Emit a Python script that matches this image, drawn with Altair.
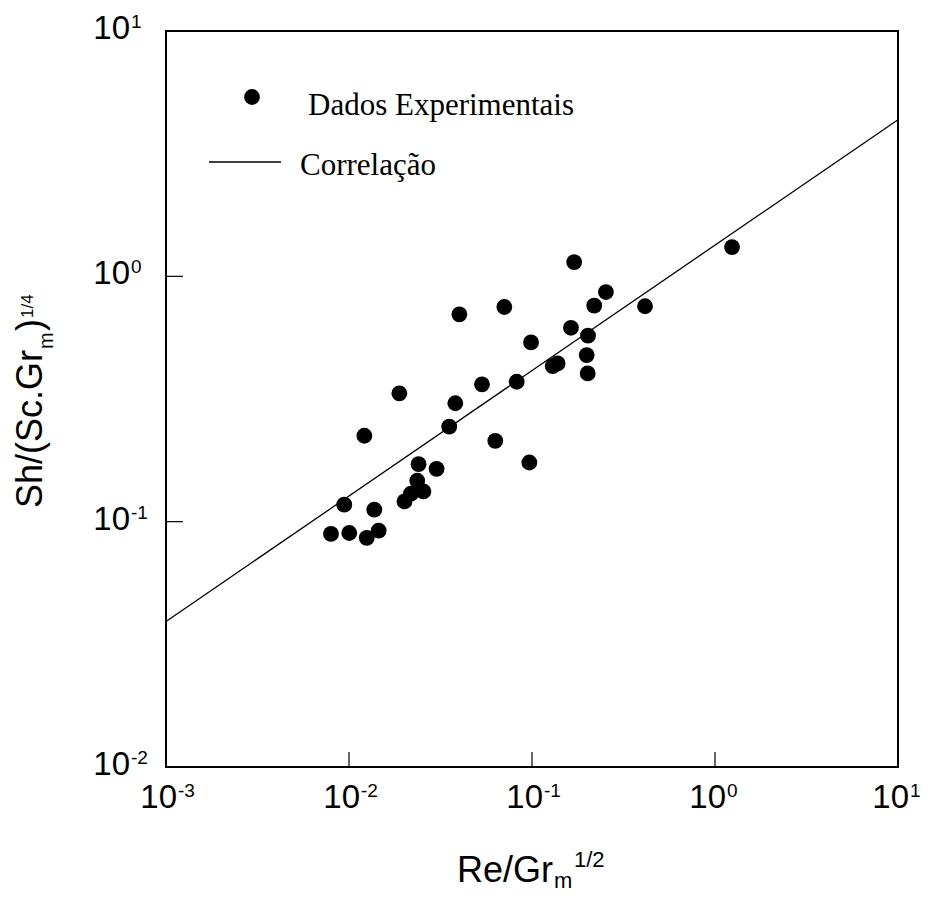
import altair as alt
import pandas as pd

# ---- data ----
re_gr = [0.01213, 0.0353, 0.0240, 0.0301, 0.0236, 0.0255, 0.0201, 0.0218,
         0.00942, 0.01375, 0.00797, 0.01003, 0.0125, 0.01452, 0.0401, 0.0706,
         0.2535, 0.2188, 0.1633, 0.2023, 0.0988, 0.199, 0.138, 0.1297,
         0.2015, 0.0825, 0.0533, 0.0381, 0.01884, 0.0630, 0.0967, 0.170,
         0.4146, 1.239]
sh_sc = [0.224, 0.244, 0.1716, 0.1642, 0.1468, 0.1328, 0.1209, 0.130,
         0.1173, 0.1119, 0.0891, 0.0899, 0.0859, 0.0919, 0.700, 0.750,
         0.863, 0.760, 0.617, 0.573, 0.5377, 0.4775, 0.4417, 0.4307,
         0.4022, 0.3718, 0.3628, 0.3038, 0.3336, 0.2135, 0.1742, 1.143,
         0.755, 1.316]

corr_x = [0.001, 10]
corr_y = [0.0392, 4.35]

x_tick_vals = [0.001, 0.01, 0.1, 1, 10]
x_tick_exps = ["-3", "-2", "-1", "0", "1"]
x_inner_ticks = [0.01, 0.1, 1]
y_tick_vals = [0.01, 0.1, 1, 10]
y_tick_exps = ["-2", "-1", "0", "1"]
y_inner_ticks = [0.1, 1]

legend_labels = ["Dados Experimentais", "Correlação"]

W, H = 732, 736
SANS = "Liberation Sans"
SERIF = "Liberation Serif"

xs = alt.Scale(type="log", domain=[0.001, 10], nice=False)
ys = alt.Scale(type="log", domain=[0.01, 10], nice=False)

pts = pd.DataFrame({"x": re_gr, "y": sh_sc})
line_df = pd.DataFrame({"x": corr_x, "y": corr_y})
xt = pd.DataFrame({"x": x_tick_vals, "e": x_tick_exps})
xit = pd.DataFrame({"x": x_inner_ticks})
yt = pd.DataFrame({"y": y_tick_vals, "e": y_tick_exps})
yit = pd.DataFrame({"y": y_inner_ticks})

points = alt.Chart(pts).mark_circle(size=250, color="black", opacity=1).encode(
    x=alt.X("x:Q", scale=xs, axis=None),
    y=alt.Y("y:Q", scale=ys, axis=None),
)
corr = alt.Chart(line_df).mark_line(color="black", strokeWidth=1.3, clip=True).encode(
    x=alt.X("x:Q", scale=xs, axis=None),
    y=alt.Y("y:Q", scale=ys, axis=None),
)

# inward ticks
xticks = alt.Chart(xit).mark_rule(color="black", strokeWidth=1.2).encode(
    x=alt.X("x:Q", scale=xs, axis=None),
    y=alt.value(H), y2=alt.value(H - 15),
)
yticks = alt.Chart(yit).mark_rule(color="black", strokeWidth=1.2).encode(
    y=alt.Y("y:Q", scale=ys, axis=None),
    x=alt.value(0), x2=alt.value(17),
)

# tick labels: 10 with superscript exponent
xlab_base = alt.Chart(xt).mark_text(font=SANS, fontSize=33, align="right",
                                    baseline="alphabetic", dx=11, dy=41).encode(
    x=alt.X("x:Q", scale=xs, axis=None), y=alt.value(H), text=alt.value("10"))
xlab_exp = alt.Chart(xt).mark_text(font=SANS, fontSize=19, align="left",
                                   baseline="alphabetic", dx=12, dy=30).encode(
    x=alt.X("x:Q", scale=xs, axis=None), y=alt.value(H), text="e:N")
ylab_base = alt.Chart(yt).mark_text(font=SANS, fontSize=33, align="right",
                                    baseline="alphabetic", dy=8).encode(
    y=alt.Y("y:Q", scale=ys, axis=None), x=alt.value(-36), text=alt.value("10"))
ylab_exp = alt.Chart(yt).mark_text(font=SANS, fontSize=19, align="left",
                                   baseline="alphabetic", dy=-3).encode(
    y=alt.Y("y:Q", scale=ys, axis=None), x=alt.value(-35), text="e:N")

def txt(s, x, y, size, font=SANS, align="left", angle=0):
    return alt.Chart(pd.DataFrame({"t": [s]})).mark_text(
        font=font, fontSize=size, align=align, baseline="alphabetic",
        angle=angle, color="black").encode(
        x=alt.value(x), y=alt.value(y), text="t:N")

# x title: Re/Gr_m^{1/2}
xt1 = txt("Re/Gr", W / 2 + 21, 851, 36, align="right")
xt2 = txt("m", W / 2 + 22, 857, 22)
xt3 = txt("1/2", W / 2 + 42, 836, 22)

# y title: Sh/(Sc.Gr_m)^{1/4}
yt1 = txt("Sh/(Sc.Gr", -124, 477, 36, angle=270)
yt2 = txt("m", -113, 318, 20, angle=270)
yt3 = txt(")", -124, 300, 36, angle=270)
yt4 = txt("1/4", -133, 287, 17, angle=270)

# legend
leg_dot = alt.Chart(pd.DataFrame({"a": [0]})).mark_circle(
    size=250, color="black", opacity=1).encode(x=alt.value(86), y=alt.value(66))
leg_line = alt.Chart(pd.DataFrame({"a": [0]})).mark_rule(
    color="black", strokeWidth=1.3).encode(x=alt.value(43), x2=alt.value(115), y=alt.value(131))
leg_t1 = txt(legend_labels[0], 142, 84, 31, font=SERIF)
leg_t2 = txt(legend_labels[1], 134, 144, 31, font=SERIF)

chart = alt.layer(
    corr, points, xticks, yticks,
    xlab_base, xlab_exp, ylab_base, ylab_exp,
    xt1, xt2, xt3, yt1, yt2, yt3, yt4,
    leg_dot, leg_line, leg_t1, leg_t2,
).properties(
    width=W, height=H,
    padding={"left": 158, "top": 23, "right": 23, "bottom": 128},
    autosize=alt.AutoSizeParams(type="none"),
    background="white",
).configure_view(stroke="black", strokeWidth=2)

chart.save("out.html", embed_options={"renderer": "svg", "actions": False})
